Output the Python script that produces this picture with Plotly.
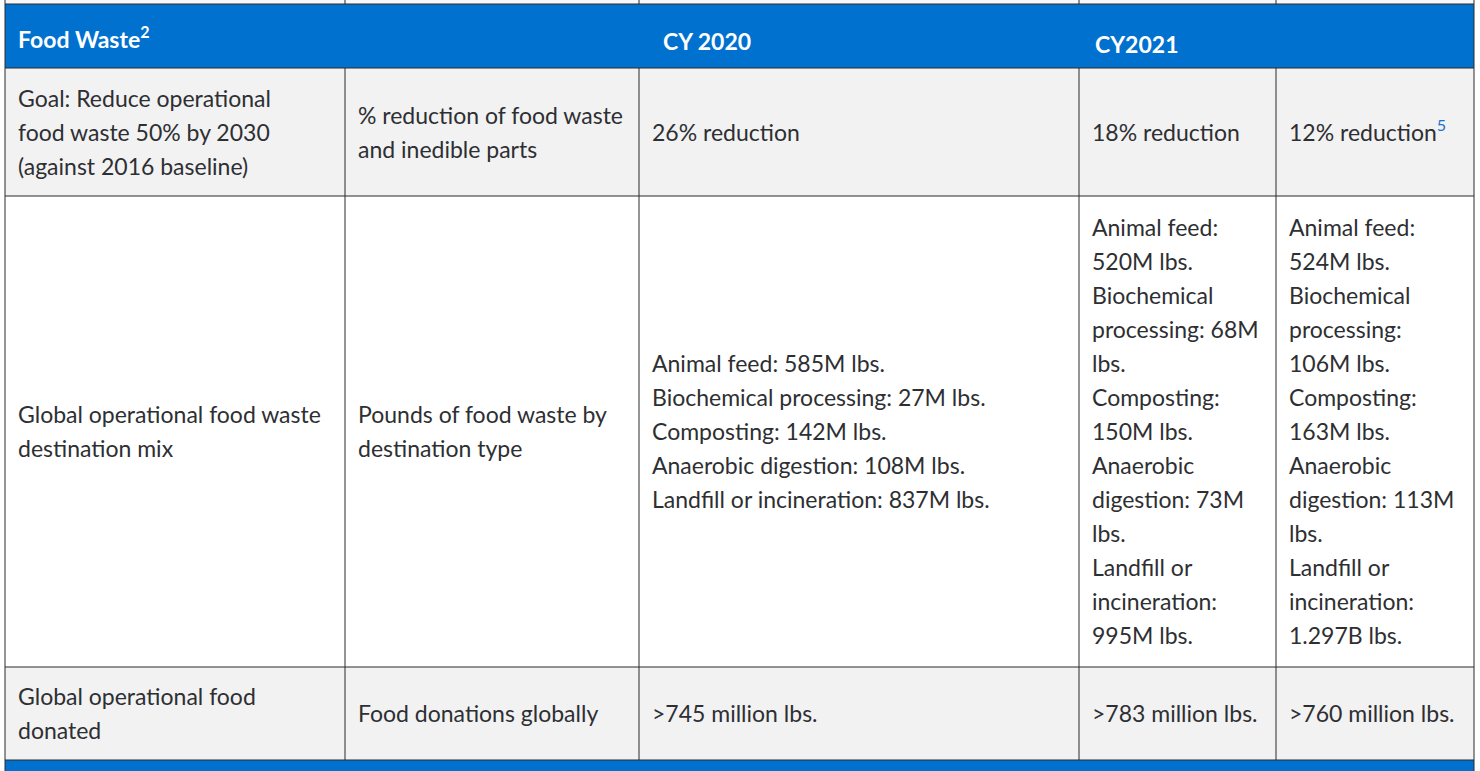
import plotly.graph_objects as go

# ---------------- data ----------------
header_labels = ["Food Waste<sup>2</sup>", "", "CY 2020", "CY2021", ""]

metric_lines = [
    ["Goal: Reduce operational", "food waste 50% by 2030", "(against 2016 baseline)"],
    ["Global operational food waste", "destination mix"],
    ["Global operational food", "donated"],
]
measure_lines = [
    ["% reduction of food waste", "and inedible parts"],
    ["Pounds of food waste by", "destination type"],
    ["Food donations globally"],
]
cy2020_lines = [
    ["26% reduction"],
    ["Animal feed: 585M lbs.", "Biochemical processing: 27M lbs.", "Composting: 142M lbs.",
     "Anaerobic digestion: 108M lbs.", "Landfill or incineration: 837M lbs."],
    [">745 million lbs."],
]
cy2021_a_lines = [
    ["18% reduction"],
    ["Animal feed:", "520M lbs.", "Biochemical", "processing: 68M", "lbs.", "Composting:",
     "150M lbs.", "Anaerobic", "digestion: 73M", "lbs.", "Landfill or", "incineration:", "995M lbs."],
    [">783 million lbs."],
]
cy2021_b_lines = [
    ["12% reduction<span style='color:#1a73c9'><sup>5</sup></span>"],
    ["Animal feed:", "524M lbs.", "Biochemical", "processing:", "106M lbs.", "Composting:",
     "163M lbs.", "Anaerobic", "digestion: 113M", "lbs.", "Landfill or", "incineration:", "1.297B lbs."],
    [">760 million lbs."],
]
columns = [metric_lines, measure_lines, cy2020_lines, cy2021_a_lines, cy2021_b_lines]

# ---------------- layout / style ----------------
W, H = 1480, 771
col_edges = [5, 345, 639, 1079, 1276, 1474]
row_edges = [68, 196, 667, 760]
header_top = 4
row_fills = ["#f2f2f2", "#ffffff", "#f2f2f2"]
blue = "#0071ce"
border = "#2b2b2b"
text_color = "#2e2f32"
font_family = "Lato"
font_size = 23
line_gap = 34
pad = 13
text_shift = 3
header_pad = [13, 0, 24, 16, 0]
header_y = [42, 36, 44, 47, 36]

fig = go.Figure()
shapes = []
# top strip above header
shapes.append(dict(type="rect", x0=col_edges[0], x1=col_edges[-1], y0=0, y1=header_top,
                   fillcolor="#f7f7f7", line_width=0, layer="below"))
# header band
shapes.append(dict(type="rect", x0=col_edges[0], x1=col_edges[-1], y0=header_top, y1=row_edges[0],
                   fillcolor=blue, line_width=0, layer="below"))
# row fills
for r in range(3):
    shapes.append(dict(type="rect", x0=col_edges[0], x1=col_edges[-1], y0=row_edges[r], y1=row_edges[r + 1],
                       fillcolor=row_fills[r], line_width=0, layer="below"))
# bottom band
shapes.append(dict(type="rect", x0=col_edges[0], x1=col_edges[-1], y0=row_edges[-1], y1=H,
                   fillcolor=blue, line_width=0, layer="below"))
# horizontal borders
for y in [header_top] + row_edges:
    shapes.append(dict(type="line", x0=col_edges[0], x1=col_edges[-1], y0=y, y1=y,
                       line=dict(color=border, width=1)))
# vertical borders: outer full height, inner only in body and top strip
for i, x in enumerate(col_edges):
    if i in (0, len(col_edges) - 1):
        shapes.append(dict(type="line", x0=x, x1=x, y0=0, y1=H, line=dict(color=border, width=1)))
    else:
        shapes.append(dict(type="line", x0=x, x1=x, y0=0, y1=header_top, line=dict(color=border, width=1)))
        shapes.append(dict(type="line", x0=x, x1=x, y0=row_edges[0], y1=row_edges[-1],
                           line=dict(color=border, width=1)))

# header text
hx, hy, ht = [], [], []
for c, lab in enumerate(header_labels):
    if lab:
        hx.append(col_edges[c] + header_pad[c])
        hy.append(header_y[c])
        ht.append(lab)
fig.add_trace(go.Scatter(x=hx, y=hy, text=ht, mode="text", textposition="middle right",
                         textfont=dict(family=font_family, size=font_size, color="white", weight="bold"),
                         hoverinfo="skip", showlegend=False))

# body text
bx, by, bt = [], [], []
for c, col in enumerate(columns):
    for r, lines in enumerate(col):
        yc = (row_edges[r] + row_edges[r + 1]) / 2 + text_shift
        n = len(lines)
        for i, line in enumerate(lines):
            bx.append(col_edges[c] + pad)
            by.append(yc + (i - (n - 1) / 2) * line_gap)
            bt.append(line)
fig.add_trace(go.Scatter(x=bx, y=by, text=bt, mode="text", textposition="middle right",
                         textfont=dict(family=font_family, size=font_size, color=text_color),
                         hoverinfo="skip", showlegend=False))

fig.update_layout(
    width=W, height=H, margin=dict(l=0, r=0, t=0, b=0),
    paper_bgcolor="white", plot_bgcolor="white",
    shapes=shapes,
    xaxis=dict(range=[0, W], visible=False, fixedrange=True),
    yaxis=dict(range=[H, 0], visible=False, fixedrange=True),
)
fig.write_html("out.html", config={"displayModeBar": False},
               post_script="document.body.style.margin='0';")
